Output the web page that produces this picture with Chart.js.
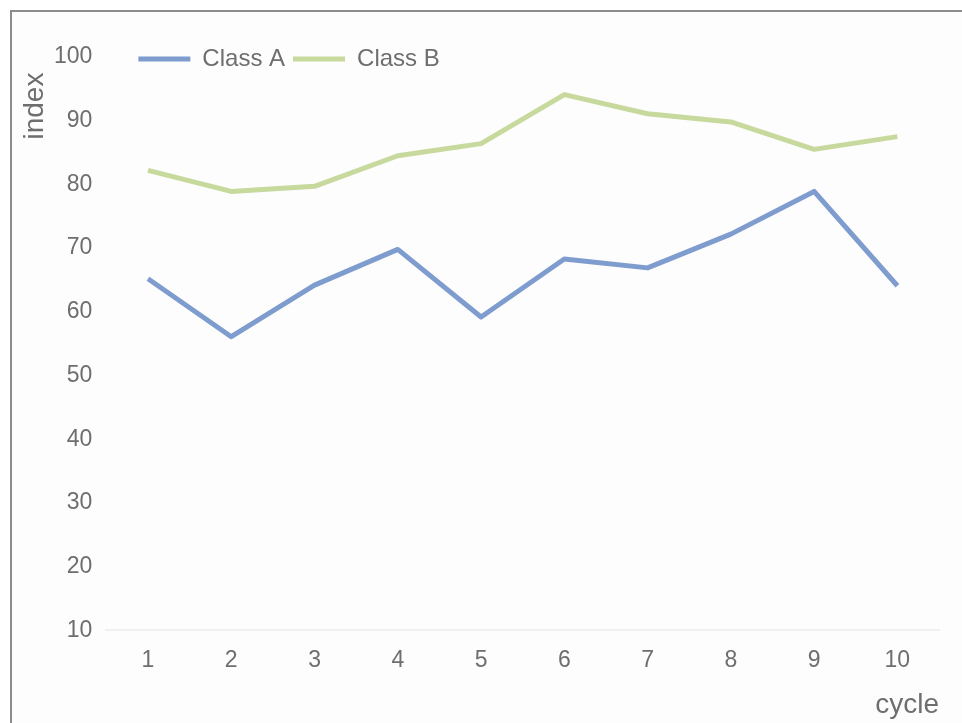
<!DOCTYPE html>
<html>
<head>
<meta charset="utf-8">
<script src="https://cdn.jsdelivr.net/npm/chart.js@4/dist/chart.umd.min.js"></script>
<style>
    html, body { margin: 0; padding: 0; background: #fff; }
    #frame {
        position: absolute;
        left: 10px; top: 10px;
        width: 952px; height: 713px;
        border-left: 2px solid #8c8c8c;
        border-top: 2px solid #8c8c8c;
        background: #fdfdfd;
    }
    #chart { display: block; }
</style>
</head>
<body>
<div id="frame"><canvas id="chart" width="950" height="711"></canvas></div>
<script>
/* Index by cycle, two classes */

const cycles = ["1", "2", "3", "4", "5", "6", "7", "8", "9", "10"];
const classA = [65.2, 56.1, 64.2, 69.8, 59.2, 68.3, 66.9, 72.2, 78.9, 64.1];
const classB = [82.2, 78.9, 79.7, 84.5, 86.4, 94.1, 91.1, 89.8, 85.5, 87.5];
const seriesNames = ["Class A", "Class B"];
const seriesColors = ["#7f9cce", "#c7d99d"];

const TEXT = "#6e6e6e";
const FONT = "'Liberation Sans', Arial, sans-serif";

// legend sits inside the plot, next to the top tick
const legendInPlot = {
    id: "legendInPlot",
    afterLayout(chart) {
        const lg = chart.legend;
        if (!lg) return;
        const dy = chart.chartArea.top + 3 - (lg.top + lg.height / 2);
        const dx = chart.chartArea.left + 24 - lg.left;
        lg.top += dy; lg.bottom += dy;
        lg.left += dx; lg.right += dx;
    }
};

new Chart(document.getElementById("chart"), {
    type: "line",
    data: {
        labels: cycles,
        datasets: [classA, classB].map((vals, i) => ({
            label: seriesNames[i],
            data: vals,
            borderColor: seriesColors[i],
            backgroundColor: seriesColors[i],
            borderWidth: 5,
            pointRadius: 0,
            tension: 0,
            borderJoinStyle: "round",
        })),
    },
    plugins: [legendInPlot],
    options: {
        responsive: false,
        animation: false,
        layout: { padding: { left: 0, right: 23, top: 3, bottom: 0 } },
        plugins: {
            legend: {
                position: "top",
                align: "start",
                labels: {
                    usePointStyle: true,
                    pointStyle: "line",
                    pointStyleWidth: 52,
                    color: TEXT,
                    font: { family: FONT, size: 24 },
                    padding: 8,
                },
            },
            tooltip: { enabled: false },
        },
        scales: {
            x: {
                offset: true,
                grid: { display: false, drawTicks: false },
                border: { color: "#f0f0f0", width: 2 },
                ticks: { color: TEXT, font: { family: FONT, size: 23 }, padding: 16.5 },
                title: {
                    display: true, text: "cycle", align: "end",
                    color: TEXT, font: { family: FONT, size: 28, lineHeight: 1 },
                    padding: { top: 0, bottom: 4 },
                },
            },
            y: {
                min: 10,
                max: 100,
                grid: { display: false, drawTicks: false },
                border: { display: false },
                ticks: { stepSize: 10, color: TEXT, font: { family: FONT, size: 23 }, padding: 14 },
                title: {
                    display: true, text: "index  ", align: "end",
                    color: TEXT, font: { family: FONT, size: 28, lineHeight: 1 },
                    padding: { top: 9, bottom: -9 },
                },
            },
        },
    },
});
</script>
</body>
</html>
